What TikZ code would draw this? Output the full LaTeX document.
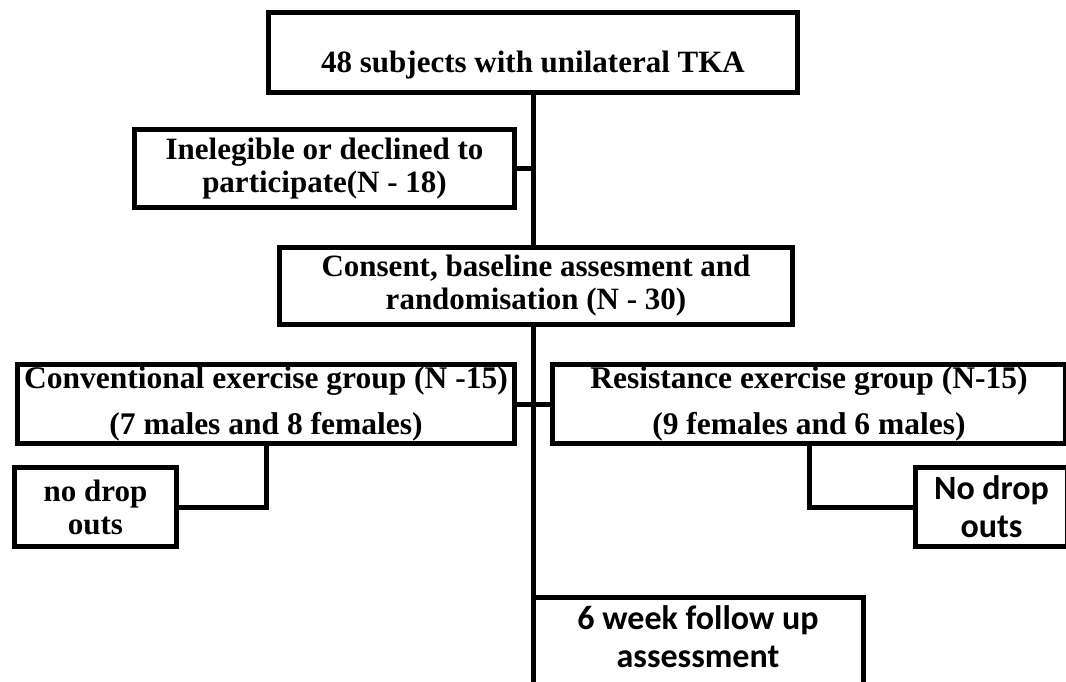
\documentclass[tikz,border=0pt]{standalone}
\usepackage{fontspec}
\setmainfont{Liberation Serif}
\newfontfamily\calibri{Carlito}

\begin{document}
\begin{tikzpicture}[x=1pt,y=-1pt,
  box/.style={draw,line width=5pt,align=center,inner sep=0pt,font=\bfseries\fontsize{31}{33}\selectfont},
  wide/.style={font=\bfseries\fontsize{31.5}{46}\selectfont},
  sans/.style={font=\calibri\bfseries\fontsize{34}{38}\selectfont},
  link/.style={line width=5pt}]
  \useasboundingbox (0,0) rectangle (1066,681);
  \node[box,minimum width=529,text height=59.5pt,text depth=20.5pt] (top) at (533,52.5) {48 subjects with unilateral TKA};
  \node[box,minimum width=380,minimum height=78] (inel) at (324.5,168.5) {Inelegible or declined to\\participate(N - 18)};
  \node[box,minimum width=513,minimum height=77] (consent) at (536,286) {Consent, baseline assesment and\\randomisation (N - 30)};
  \node[box,wide,minimum width=497,minimum height=79] (conv) at (266,404) {Conventional exercise group (N -15)\\(7 males and 8 females)};
  \node[box,wide,minimum width=513,minimum height=79] (resist) at (809,404) {Resistance exercise group (N-15)\\(9 females and 6 males)};
  \node[box,minimum width=162,minimum height=79] (nodropL) at (95.5,507) {no drop\\outs};
  \node[box,sans,minimum width=152,minimum height=79] (nodropR) at (991.5,507) {No drop\\outs};
  \node[box,sans,minimum width=330,text height=69.5pt,text depth=51pt] (follow) at (698,657.75) {6 week follow up\\assessment};

  \draw[link] (top.south) -- (consent.north -| top.south);
  \draw[link] (consent.south -| top.south) -- (follow.north -| top.south);
  \draw[link] (inel.east) -- (inel.east -| top.south);
  \draw[link] (conv.east) -- (resist.west);
  \draw[link] (conv.south) |- (nodropL.east);
  \draw[link] (resist.south) |- (nodropR.west);
\end{tikzpicture}
\end{document}
